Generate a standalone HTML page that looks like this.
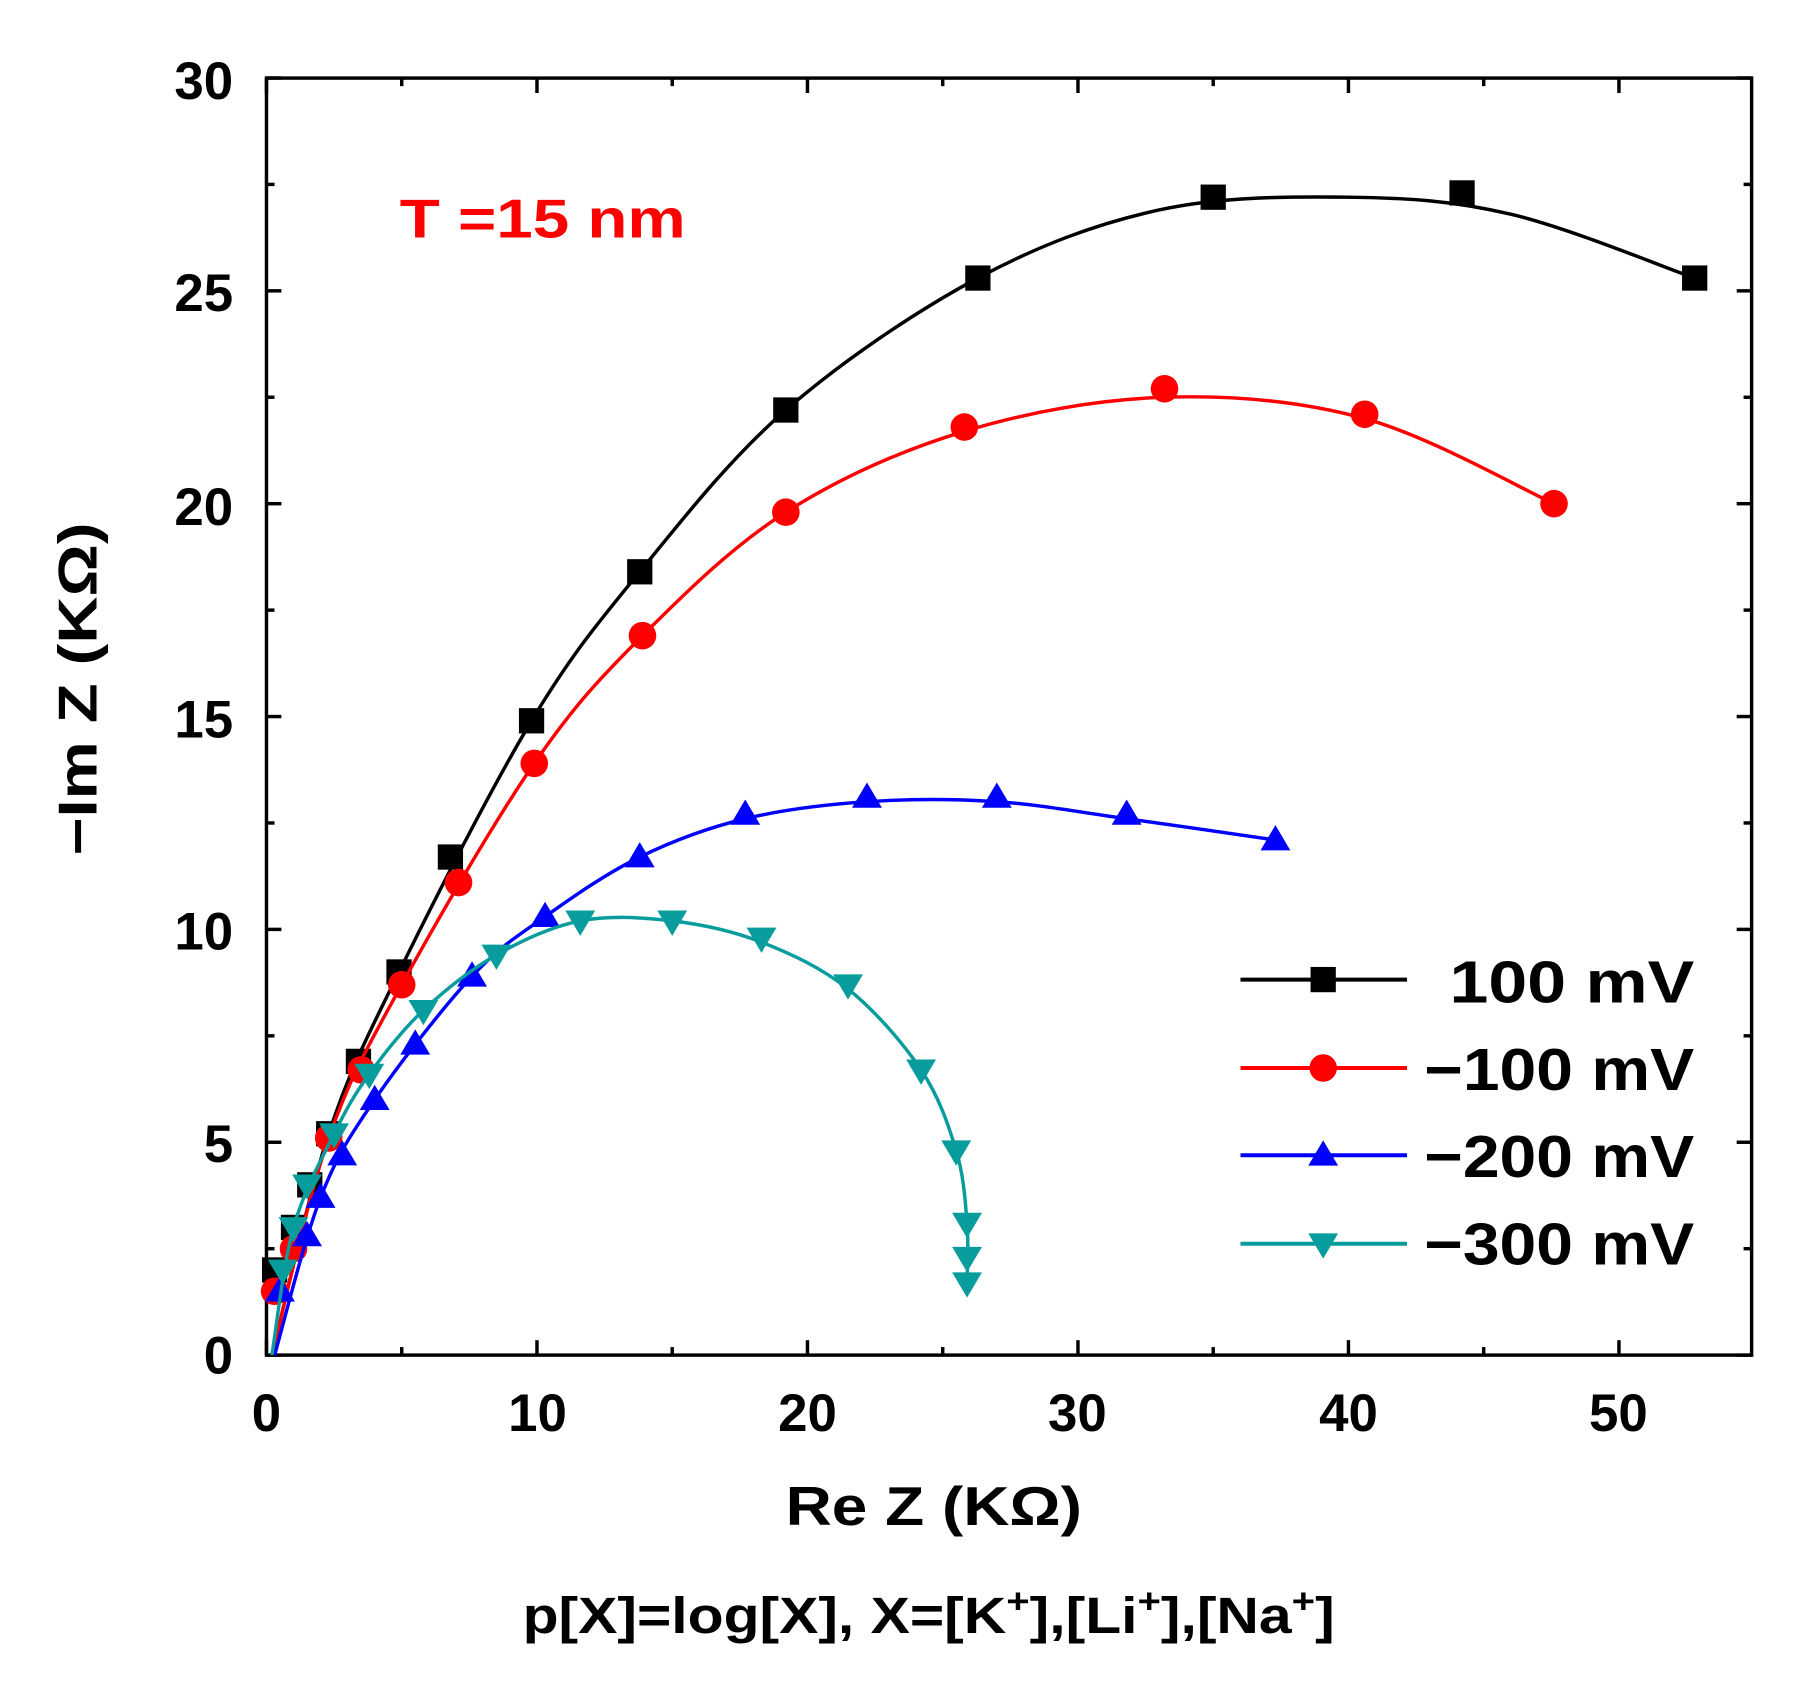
<!DOCTYPE html>
<html><head><meta charset="utf-8"><style>
html,body{margin:0;padding:0;background:#fff;}
svg{display:block}
text{font-family:"Liberation Sans",Arial,sans-serif;font-weight:bold;}
</style></head><body>
<svg id="s" width="1801" height="1687" viewBox="0 0 1568 1469" preserveAspectRatio="none">
<rect x="232" y="68" width="1293" height="1112" fill="none" stroke="#000" stroke-width="3"/>
<g id="ticks" stroke="#000" stroke-width="3"></g>
<g font-size="46" text-anchor="middle">
<text x="232" y="1246">0</text><text x="468" y="1246">10</text><text x="703" y="1246">20</text>
<text x="938" y="1246">30</text><text x="1174" y="1246">40</text><text x="1409" y="1246">50</text>
</g>
<g font-size="46" text-anchor="end">
<text x="203" y="1196">0</text><text x="203" y="1012">5</text><text x="203" y="827">10</text>
<text x="203" y="642">15</text><text x="203" y="271">25</text><text x="203" y="457">20</text><text x="203" y="86">30</text>
</g>
<text x="813" y="1328" font-size="48" text-anchor="middle" textLength="258" lengthAdjust="spacingAndGlyphs">Re Z (KΩ)</text>
<text transform="translate(84,600) rotate(-90)" font-size="48" text-anchor="middle" textLength="290" lengthAdjust="spacingAndGlyphs">−Im Z (KΩ)</text>
<text x="455" y="1422" font-size="44" textLength="707" lengthAdjust="spacingAndGlyphs">p[X]=log[X], X=[K<tspan dy="-18" font-size="30">+</tspan><tspan dy="18">],[Li</tspan><tspan dy="-18" font-size="30">+</tspan><tspan dy="18">],[Na</tspan><tspan dy="-18" font-size="30">+</tspan><tspan dy="18">]</tspan></text>
<text x="348" y="207" font-size="48" fill="#f00" textLength="249" lengthAdjust="spacingAndGlyphs">T =15 nm</text>
<g id="plot"></g>
<g font-size="52">
<text x="1262" y="873" textLength="213" lengthAdjust="spacingAndGlyphs">100 mV</text><text x="1240" y="949" textLength="235" lengthAdjust="spacingAndGlyphs">−100 mV</text>
<text x="1240" y="1025" textLength="235" lengthAdjust="spacingAndGlyphs">−200 mV</text><text x="1240" y="1101" textLength="235" lengthAdjust="spacingAndGlyphs">−300 mV</text>
</g>
</svg>
<script>
const NS="http://www.w3.org/2000/svg";
const X=v=>232+v*23.55, Y=v=>1180-v*37.07;
const tk=document.getElementById('ticks');
function ln(g,x1,y1,x2,y2){const l=document.createElementNS(NS,'line');l.setAttribute('x1',x1);l.setAttribute('y1',y1);l.setAttribute('x2',x2);l.setAttribute('y2',y2);g.appendChild(l);}
for(let i=0;i<=50;i+=5){const x=X(i),L=i%10?7:13;ln(tk,x,1180,x,1180-L);ln(tk,x,68,x,68+L);}
for(let i=0;i<=30;i+=2.5){const y=Y(i),L=(i%5)?7:13;ln(tk,232,y,232+L,y);ln(tk,1525,y,1525-L,y);}
const S=[
 {c:'#000',m:'sq',p:[[0.3,2],[1,3],[1.6,4],[2.3,5.2],[3.4,6.9],[4.9,9],[6.8,11.7],[9.8,14.9],[13.8,18.4],[19.2,22.2],[26.3,25.3],[35,27.2],[44.2,27.3],[52.8,25.3]],curve:[[0.2,0],[2.3,5.2],[4.9,9],[9.8,14.9],[13.8,18.4],[19.2,22.2],[26.3,25.3],[33,26.9],[40,27.2],[46,26.8],[52.8,25.3]]},
 {c:'#f00',m:'ci',p:[[0.3,1.5],[1,2.5],[2.3,5.1],[3.5,6.7],[5,8.7],[7.1,11.1],[9.9,13.9],[13.9,16.9],[19.2,19.8],[25.8,21.8],[33.2,22.7],[40.6,22.1],[47.6,20]],curve:[[0.2,0],[2.3,5.1],[5,8.7],[9.9,13.9],[13.9,16.9],[19.2,19.8],[25.8,21.7],[33.2,22.5],[40.6,22],[47.6,20]]},
 {c:'#00f',m:'up',p:[[0.5,1.5],[1.5,2.8],[2,3.7],[2.8,4.7],[4,6],[5.5,7.3],[7.6,8.9],[10.3,10.3],[13.8,11.7],[17.7,12.7],[22.2,13.1],[27,13.1],[31.8,12.7],[37.3,12.1]],curve:[[0.3,0],[2,3.7],[4,6],[7.6,8.9],[10.3,10.3],[13.8,11.7],[17.7,12.6],[22.2,13],[27,13],[31.8,12.6],[37.3,12.1]]},
 {c:'#089c9c',m:'dn',p:[[0.6,2],[1,3],[1.5,4],[2.5,5.2],[3.8,6.6],[5.8,8.1],[8.5,9.4],[11.6,10.2],[15,10.2],[18.3,9.8],[21.5,8.7],[24.2,6.7],[25.5,4.8],[25.9,3.1],[25.9,2.3],[25.9,1.7]],curve:[[0.2,0],[1,3],[2.5,5.2],[3.8,6.6],[5.8,8.1],[8.5,9.4],[11.6,10.2],[15,10.2],[18.3,9.7],[21.5,8.6],[24.2,6.7],[25.5,4.8],[25.9,3.1],[25.9,1.7]]}
];
const pl=document.getElementById('plot');
function path(pts){let d='M'+X(pts[0][0])+','+Y(pts[0][1]);
 for(let i=0;i<pts.length-1;i++){const p0=pts[Math.max(i-1,0)],p1=pts[i],p2=pts[i+1],p3=pts[Math.min(i+2,pts.length-1)];
  const c1=[X(p1[0])+(X(p2[0])-X(p0[0]))/6,Y(p1[1])+(Y(p2[1])-Y(p0[1]))/6],c2=[X(p2[0])-(X(p3[0])-X(p1[0]))/6,Y(p2[1])-(Y(p3[1])-Y(p1[1]))/6];
  d+=` C${c1} ${c2} ${X(p2[0])},${Y(p2[1])}`;}return d;}
function mk(m,x,y,c){let e;
 if(m=='sq'){e=document.createElementNS(NS,'rect');e.setAttribute('x',x-11);e.setAttribute('y',y-11);e.setAttribute('width',22);e.setAttribute('height',22);}
 else if(m=='ci'){e=document.createElementNS(NS,'circle');e.setAttribute('cx',x);e.setAttribute('cy',y);e.setAttribute('r',12);}
 else{e=document.createElementNS(NS,'polygon');const s=m=='up'?1:-1;e.setAttribute('points',`${x-13},${y+9*s} ${x+13},${y+9*s} ${x},${y-13*s}`);}
 e.setAttribute('fill',c);pl.appendChild(e);}
S.forEach((s,k)=>{const p=document.createElementNS(NS,'path');p.setAttribute('d',path(s.curve));p.setAttribute('fill','none');p.setAttribute('stroke',s.c);p.setAttribute('stroke-width',3);pl.appendChild(p);
 s.p.forEach(q=>mk(s.m,X(q[0]),Y(q[1]),s.c));
 const ly=[853,930,1006,1083][k];const l=document.createElementNS(NS,'line');l.setAttribute('x1',1080);l.setAttribute('x2',1225);l.setAttribute('y1',ly);l.setAttribute('y2',ly);l.setAttribute('stroke',s.c);l.setAttribute('stroke-width',3.5);pl.appendChild(l);
 mk(s.m,1152,ly,s.c);});
</script>
</body></html>
